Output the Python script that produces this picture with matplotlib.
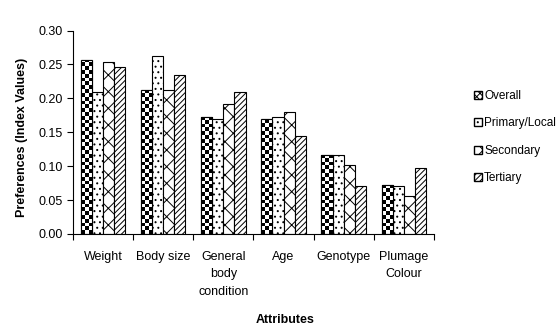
import numpy as np
import matplotlib
matplotlib.use('Agg')
import matplotlib.pyplot as plt
from matplotlib.patches import Patch

plt.rcParams['font.family'] = ['Liberation Sans', 'DejaVu Sans']
plt.rcParams['hatch.linewidth'] = 0.7

attributes = ['Weight', 'Body size', 'General\nbody\ncondition', 'Age', 'Genotype', 'Plumage\nColour']
series_names = ['Overall', 'Primary/Local', 'Secondary', 'Tertiary']
overall = [0.257, 0.213, 0.172, 0.170, 0.116, 0.072]
primary = [0.209, 0.263, 0.170, 0.172, 0.116, 0.070]
secondary = [0.253, 0.213, 0.192, 0.180, 0.102, 0.056]
tertiary = [0.247, 0.234, 0.209, 0.145, 0.070, 0.098]

fig = plt.figure(figsize=(5.6, 3.29), dpi=100)
ax = fig.add_axes([0.130, 0.289, 0.645, 0.618])

x = np.arange(len(attributes))
w = 0.186
hatches = [None, '...', '//\\\\', '//////']
data = [overall, primary, secondary, tertiary]

for k, vals in enumerate(data):
    pos = x + (k - 1.5) * w
    bars = ax.bar(pos, vals, width=w, color='white', edgecolor='black',
                  linewidth=0.8, hatch=hatches[k], zorder=2)
    if k == 0:
        # checkerboard fill for the Overall bars
        for b in bars:
            x0 = b.get_x()
            h = b.get_height()
            ny = int(np.ceil(h / 0.0056))
            board = (np.indices((ny, 3)).sum(axis=0) % 2).astype(float)
            im = ax.imshow(board, cmap='gray', interpolation='nearest', aspect='auto',
                           extent=[x0, x0 + w, 0, ny * 0.0056], origin='lower', zorder=2.5)
            im.set_clip_path(b)
            ax.bar(b.get_x() + w / 2, h, width=w, facecolor='none', edgecolor='black',
                   linewidth=0.8, zorder=3)

ax.set_xlim(-0.5, 5.5)
ax.set_ylim(0, 0.30)
ax.set_yticks(np.arange(0, 0.31, 0.05))
ax.set_yticklabels(['%.2f' % v for v in np.arange(0, 0.31, 0.05)], fontsize=9)
ax.set_xticks(np.arange(-0.5, 6, 1))
ax.set_xticklabels([])
ax.set_xticks(x, minor=True)
ax.set_xticklabels(attributes, minor=True, fontsize=9, linespacing=1.65, va='top')
ax.tick_params(axis='x', which='minor', length=0, pad=12)
ax.tick_params(axis='x', which='major', length=4, direction='out')
ax.tick_params(axis='y', length=4, direction='out', pad=3)
ax.spines['top'].set_visible(False)
ax.spines['right'].set_visible(False)

fig.text(22 / 560, 1 - 137 / 329, 'Preferences (Index Values)', rotation=90,
         ha='center', va='center', fontsize=9, fontweight='bold')
fig.text(285 / 560, 1 - 320 / 329, 'Attributes', ha='center', va='center',
         fontsize=9, fontweight='bold')

handles = [Patch(facecolor='white', edgecolor='black', hatch='xxxxx'),
           Patch(facecolor='white', edgecolor='black', hatch='...'),
           Patch(facecolor='white', edgecolor='black', hatch='//\\\\'),
           Patch(facecolor='white', edgecolor='black', hatch='//////')]
fig.legend(handles, series_names, loc='upper left', bbox_to_anchor=(0.835, 0.744),
           frameon=False, fontsize=8.5, handlelength=0.7, handleheight=0.7,
           handletextpad=0.2, labelspacing=1.3, borderpad=0)

fig.savefig('out.png', dpi=100)
